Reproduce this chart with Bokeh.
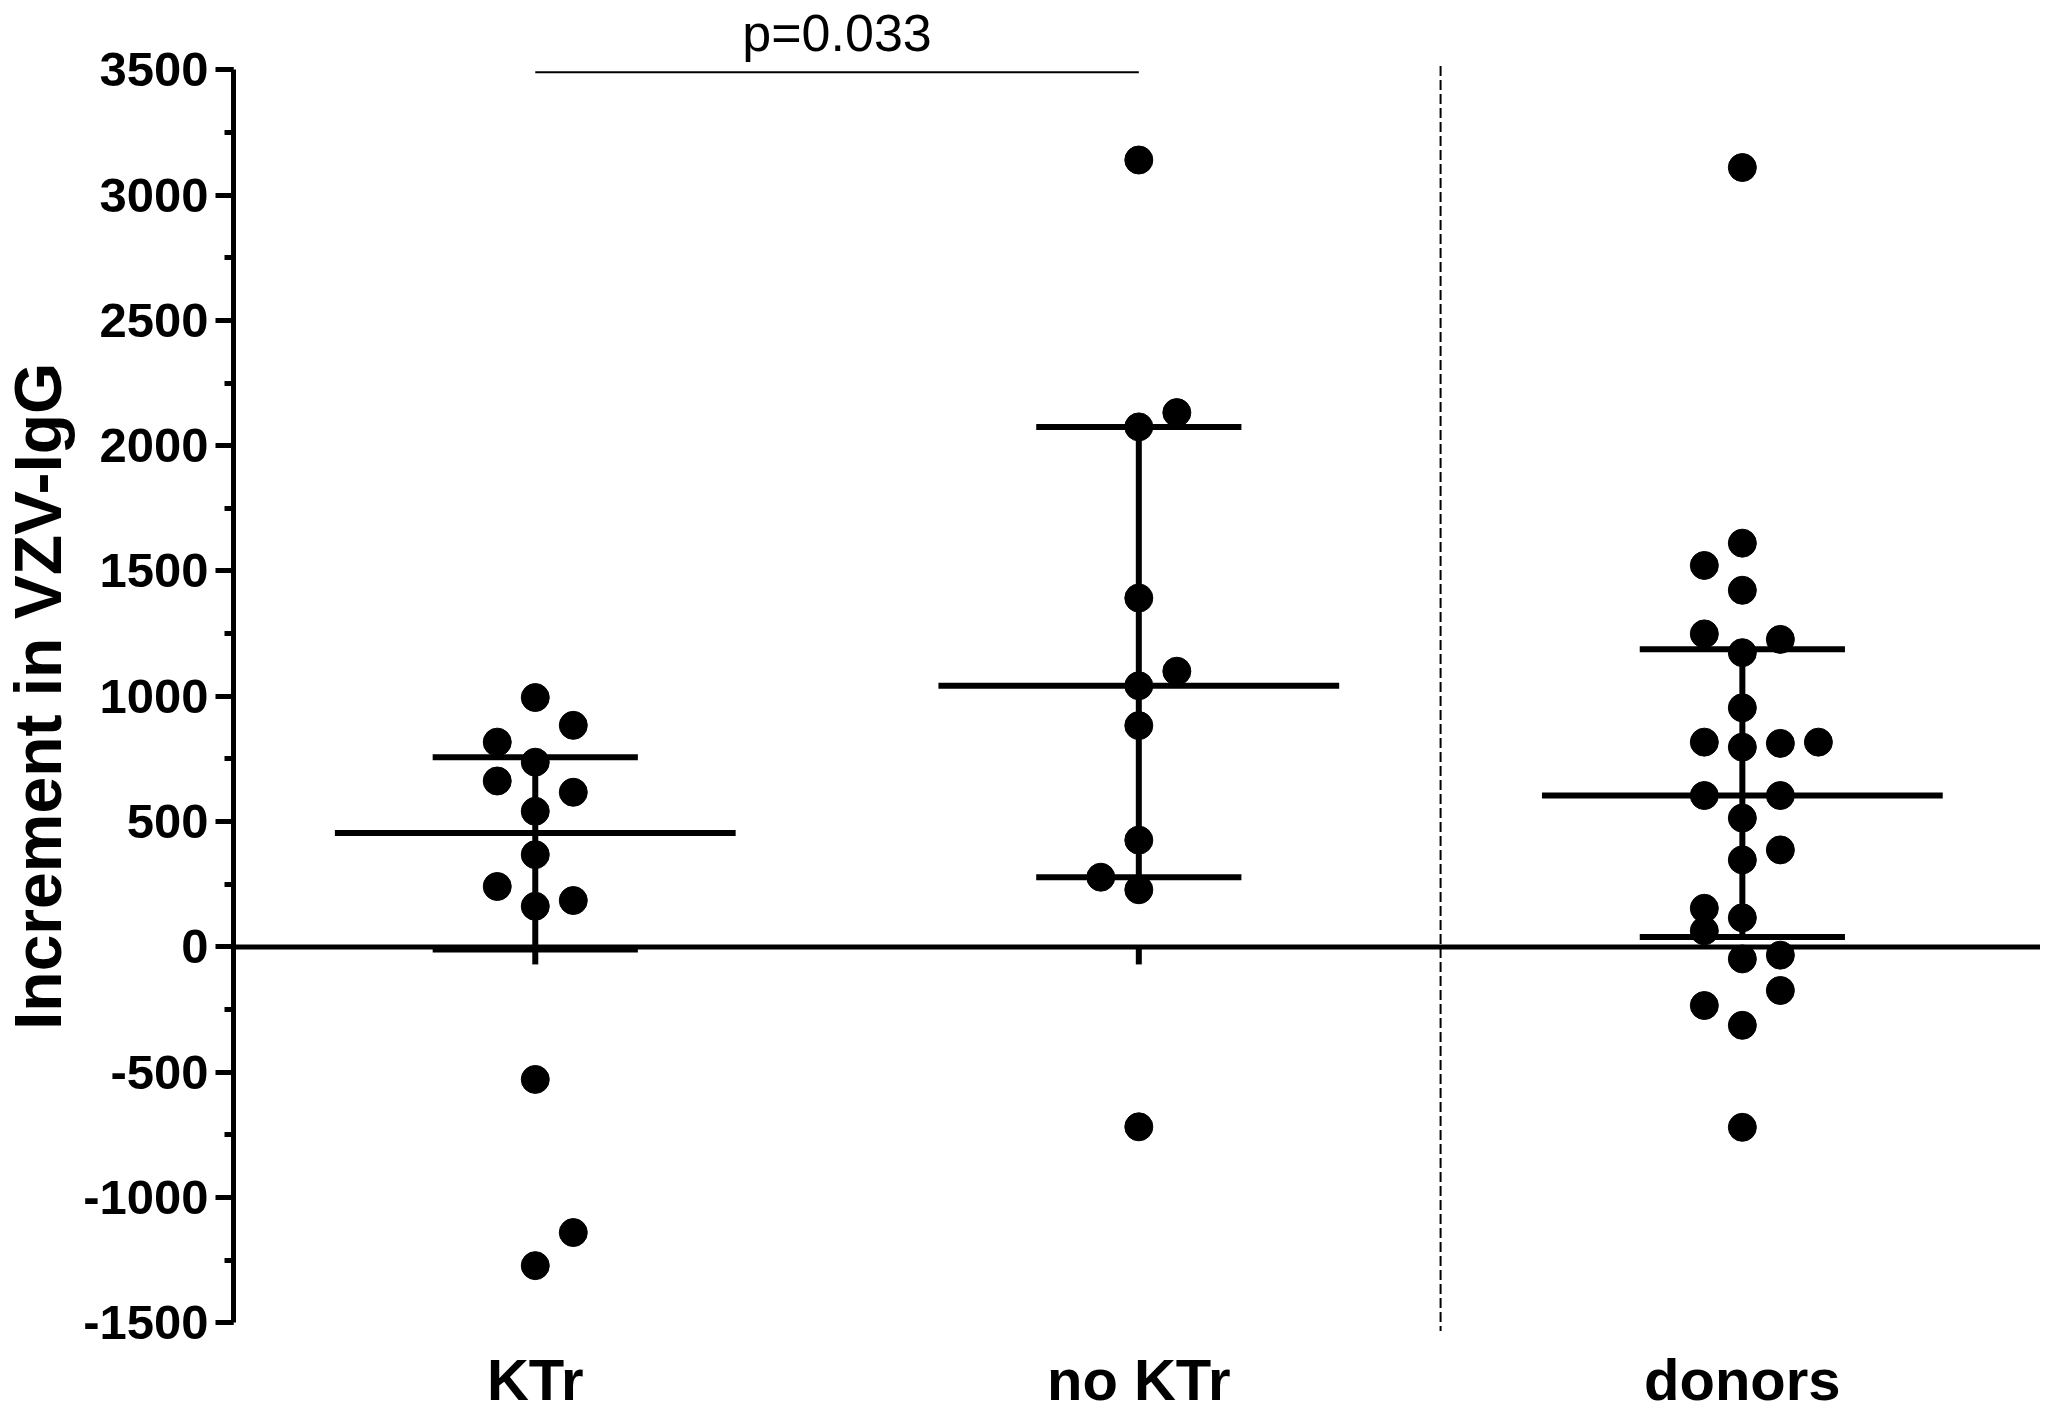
import numpy as np
from bokeh.plotting import figure
from bokeh.layouts import row
from bokeh.models import Range1d, Span, SingleIntervalTicker, ColumnDataSource, PrintfTickFormatter
from bokeh.core.properties import value
from bokeh.embed import file_html
from bokeh.resources import INLINE

# ---------------- data ----------------
categories = ["KTr", "no KTr", "donors"]
positions = [1, 2, 3]

ktr_values = [995, 817, 884, 737, 662, 617, 541, 368, 241, 185, 162, -529, -1140, -1272]
ktr_slots = [0, -1, 1, 0, -1, 1, 0, 0, -1, 1, 0, 0, 1, 0]

noktr_values = [3140, 2132, 2075, 1392, 1100, 1042, 883, 426, 278, 228, -718]
noktr_slots = [0, 1, 0, 0, 1, 0, 0, 0, -1, 0, 0]

donor_values = [3110, 1611, 1522, 1423, 1249, 1227, 1174, 954, 817, 797, 812, 817,
                604, 604, 514, 387, 347, 154, 116, 64, -48, -33, -174, -234, -313, -720]
donor_slots = [0, 0, -1, 0, -1, 1, 0, 0, -1, 0, 1, 2,
               -1, 1, 0, 1, 0, -1, 0, -1, 0, 1, 1, -1, 0, 0]

comparison = [1, 2]          # groups compared
p_text = ["p=0.033"]
y_label = ["Increment in VZV-IgG"]
y_ticks_interval = 500

# ---------------- layout constants ----------------
FONT = "Liberation Sans"
slot_w = 0.063
med_half = 0.332
iqr_half = 0.17
dot_size = 28
bar_w = 6
LABEL_W = 80

groups = [ktr_values, noktr_values, donor_values]
slots = [ktr_slots, noktr_slots, donor_slots]

y_range = Range1d(-1874, 3776.5)

# ---- narrow figure holding the rotated y-axis title ----
lab = figure(width=LABEL_W, height=1416, x_range=Range1d(0, LABEL_W), y_range=y_range,
             x_axis_type=None, y_axis_type=None, output_backend="svg", toolbar_location=None,
             min_border=0)
lab.outline_line_color = None
lab.grid.visible = False
lab.text(x=[37], y=[1000], text=y_label, angle=np.pi / 2,
         text_font=value(FONT), text_font_style="bold", text_font_size="66px",
         text_align="center", text_baseline="alphabetic", text_color="black")

# ---- main plot ----
p = figure(width=2040 - LABEL_W, height=1416,
           x_range=Range1d(0.5, 3.494), y_range=y_range,
           x_axis_type=None, output_backend="svg", toolbar_location=None,
           min_border_left=232 - LABEL_W, min_border_right=0, min_border_top=0, min_border_bottom=0)
p.outline_line_color = None
p.grid.visible = False
p.background_fill_color = "white"
p.border_fill_color = "white"

# y axis
ya = p.yaxis[0]
ya.bounds = (-1500, 3500)
ya.ticker = SingleIntervalTicker(interval=y_ticks_interval, num_minor_ticks=2)
ya.formatter = PrintfTickFormatter(format="%d")
ya.axis_line_width = 5
ya.axis_line_color = "black"
ya.major_tick_line_width = 5
ya.minor_tick_line_width = 5
ya.major_tick_in = 0
ya.major_tick_out = 18
ya.minor_tick_in = 0
ya.minor_tick_out = 9
ya.major_label_standoff = 7
ya.major_label_text_font = FONT
ya.major_label_text_font_style = "bold"
ya.major_label_text_font_size = "49px"
ya.major_label_text_color = "black"

# zero line (x axis)
p.add_layout(Span(location=0, dimension="width", line_color="black", line_width=5))
# category ticks below zero
p.segment(x0=positions, y0=[0] * 3, x1=positions, y1=[-70] * 3,
          line_color="black", line_width=bar_w)

# dashed separator
p.segment(x0=[2.5], y0=[3515], x1=[2.5], y1=[-1533],
          line_color="black", line_width=2, line_dash="10 4")

# median and IQR bars
q1s, meds, q3s = [], [], []
for vals in groups:
    q1, med, q3 = np.quantile(np.array(vals, dtype=float), [0.25, 0.5, 0.75], method="weibull")
    q1s.append(q1); meds.append(med); q3s.append(q3)
pos = np.array(positions, dtype=float)
p.segment(x0=pos - med_half, y0=meds, x1=pos + med_half, y1=meds,
          line_color="black", line_width=bar_w)
p.segment(x0=pos - iqr_half, y0=q3s, x1=pos + iqr_half, y1=q3s,
          line_color="black", line_width=bar_w)
p.segment(x0=pos - iqr_half, y0=q1s, x1=pos + iqr_half, y1=q1s,
          line_color="black", line_width=bar_w)
p.segment(x0=pos, y0=q1s, x1=pos, y1=q3s, line_color="black", line_width=bar_w)

# dots
xs, ys = [], []
for ps, vals, sl in zip(positions, groups, slots):
    for v, s in zip(vals, sl):
        xs.append(ps + s * slot_w)
        ys.append(v)
p.scatter(x=xs, y=ys, size=dot_size, marker="circle", fill_color="black", line_color="black")

# significance bar + p value
p.segment(x0=[comparison[0]], y0=[3490], x1=[comparison[1]], y1=[3490],
          line_color="black", line_width=2)
p.text(x=[(comparison[0] + comparison[1]) / 2], y=[3648], text=p_text,
       text_font=value(FONT), text_font_size="52px", text_align="center",
       text_baseline="alphabetic", text_color="black")

# category labels
cat_src = ColumnDataSource(dict(x=positions, y=[-1598] * 3, t=categories))
p.text(x="x", y="y", text="t", source=cat_src,
       text_font=value(FONT), text_font_style="bold", text_font_size="58px",
       text_align="center", text_baseline="top", text_color="black")

layout = row(lab, p)
open("out.html", "w").write(file_html(layout, INLINE))
